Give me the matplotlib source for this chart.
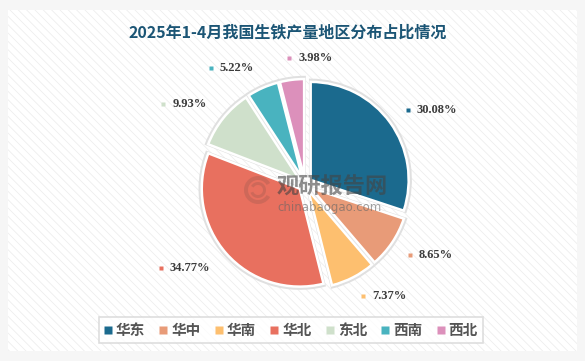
import matplotlib
matplotlib.use("Agg")
import matplotlib.pyplot as plt
from matplotlib.patches import Rectangle, Wedge
from matplotlib.lines import Line2D
import numpy as np

title = "2025年1-4月我国生铁产量地区分布占比情况"
categories = ["华东", "华中", "华南", "华北", "东北", "西南", "西北"]
values = [30.08, 8.65, 7.37, 34.77, 9.93, 5.22, 3.98]
colors = ["#1b6a8e", "#e89b78", "#fdbf6f", "#e8705f", "#cfe0cb", "#49b3bf", "#dc90bb"]

plt.rcParams["hatch.linewidth"] = 0.6
cjk = ["Noto Sans CJK SC", "DejaVu Sans"]

W, H = 585, 361
fig = plt.figure(figsize=(W / 100, H / 100), dpi=100)
fig.patch.set_facecolor("#f6f6f6")
ax = fig.add_axes([0, 0, 1, 1])

# panel with diagonal hatch
ax.add_patch(Rectangle((8, 10), 569, 341, facecolor="white", edgecolor="#eeeeee",
                       hatch="\\\\\\\\", lw=0, zorder=0))

cx, cy, R = 305, 177, 98
explode = [7] * len(values)
# soft shadow
ax.pie(values, radius=R + 1.5, center=(cx, cy), startangle=90, counterclock=False,
       explode=explode, colors=["#e0e0e0"] * len(values),
       wedgeprops=dict(edgecolor="#e0e0e0", linewidth=2.5), frame=True)
wedges, _ = ax.pie(values, radius=R, center=(cx, cy), startangle=90, counterclock=False,
                   explode=explode, colors=colors,
                   wedgeprops=dict(edgecolor="white", linewidth=1.8), frame=True)
ax.set_xlim(0, W)
ax.set_ylim(0, H)
ax.set_aspect("auto")
ax.axis("off")

# value labels
lab_font = dict(family=["Liberation Serif", "DejaVu Serif"], fontsize=9,
                fontweight="bold", color="#3c3c3c")
pending = []
for w, v, c in zip(wedges, values, colors):
    mid = np.deg2rad((w.theta1 + w.theta2) / 2)
    r = 1.22 * R
    px, py = w.center[0] + r * np.cos(mid), w.center[1] + r * np.sin(mid)
    txt = f"{v:.2f}%"
    if np.cos(mid) > -0.2:
        ax.plot([px], [py], marker="s", ms=3, color=c, mec="none", zorder=5)
        ax.text(px + 9, py, txt, ha="left", va="center", zorder=5, **lab_font)
    else:
        t = ax.text(px, py, txt, ha="right", va="center", zorder=5, **lab_font)
        pending.append((t, py, c))

fig.canvas.draw()
for t, py, c in pending:
    bb = t.get_window_extent()
    ax.plot([bb.x0 - 9], [py], marker="s", ms=3, color=c, mec="none", zorder=5)

# watermark
ax.text(332, H - 187, "观研报告网", ha="center", va="center", fontsize=16,
        fontweight="bold", color="#444444", alpha=0.6, family=cjk, zorder=6)
ax.text(330, H - 208, "chinabaogao.com", ha="center", va="center", fontsize=8.5,
        color="#666666", alpha=0.6, family=["DejaVu Sans"], zorder=6)
ax.add_patch(Wedge((258, H - 190), 14, 30, 330, width=4, facecolor="#a05a50",
                   alpha=0.35, lw=0, zorder=6))
ax.add_patch(Wedge((258, H - 190), 8, 200, 150, width=3, facecolor="#a05a50",
                   alpha=0.35, lw=0, zorder=6))

# title
ax.text(288, H - 32, title, ha="center", va="center", fontsize=11.5,
        fontweight="bold", color="#1b5575", family=cjk, zorder=6)

# legend
handles = [Line2D([], [], ls="none", marker="s", ms=5.5, color=c, mec="none")
           for c in colors]
leg = ax.legend(handles, categories, loc="center", bbox_to_anchor=(291 / W, 31 / H),
                ncol=7, frameon=True, fancybox=False, handlelength=0.5,
                handletextpad=0.3, columnspacing=1.0, borderpad=0.35,
                borderaxespad=0, prop=dict(family=cjk, size=10.5, weight="bold"))
leg.get_frame().set_edgecolor("#d6d6d6")
leg.get_frame().set_linewidth(1.2)
for t in leg.get_texts():
    t.set_color("#555555")

fig.savefig("out.png", dpi=100, facecolor=fig.get_facecolor())
